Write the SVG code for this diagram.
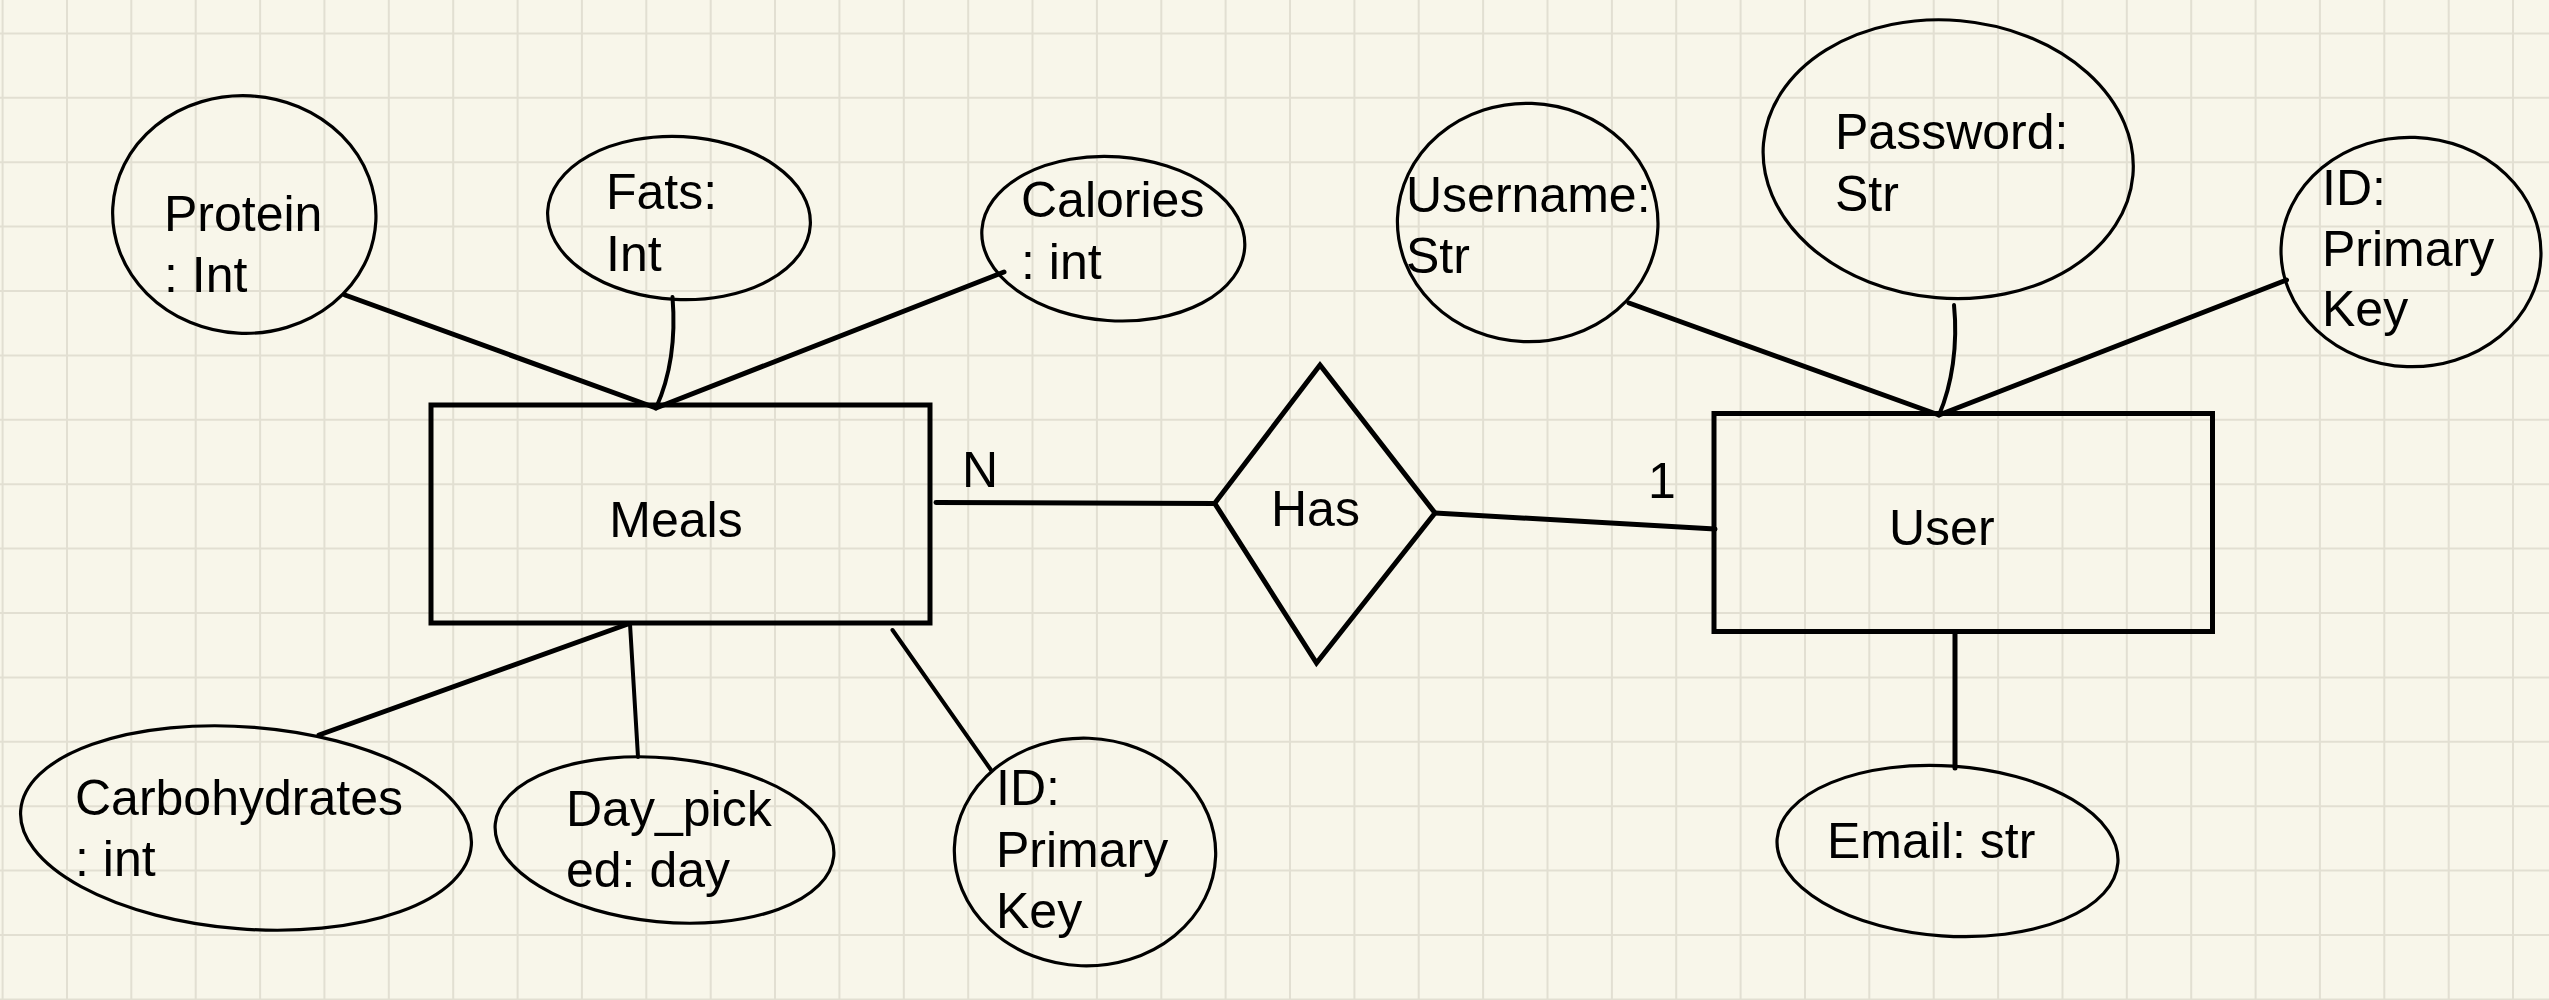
<svg xmlns="http://www.w3.org/2000/svg" width="2549" height="1000" viewBox="0 0 2549 1000">
<defs>
<style>
.bg{fill:#f8f6ea}
.grid{stroke:#e2dfd2;stroke-width:2;fill:none}
.ent{fill:none;stroke:#000;stroke-width:5;stroke-linejoin:miter}
.attr{fill:none;stroke:#000;stroke-width:3.2}
.rel{fill:none;stroke:#000;stroke-width:5;stroke-linejoin:miter}
.ln{fill:none;stroke:#000;stroke-width:5;stroke-linecap:round}
.ln4{fill:none;stroke:#000;stroke-width:4;stroke-linecap:round}
text{font-family:"Liberation Sans",Arial,Helvetica,sans-serif;font-size:50px;fill:#000}
</style>
</defs>
<rect class="bg" x="0" y="0" width="2549" height="1000"/>
<g id="grid" class="grid">
<path d="M2.6,0V1000M67,0V1000M131.3,0V1000M195.7,0V1000M260.1,0V1000M324.4,0V1000M388.8,0V1000M453.2,0V1000M517.6,0V1000M581.9,0V1000M646.3,0V1000M710.7,0V1000M775,0V1000M839.4,0V1000M903.8,0V1000M968.2,0V1000M1032.5,0V1000M1096.9,0V1000M1161.3,0V1000M1225.6,0V1000M1290,0V1000M1354.4,0V1000M1418.7,0V1000M1483.1,0V1000M1547.5,0V1000M1611.9,0V1000M1676.2,0V1000M1740.6,0V1000M1805,0V1000M1869.3,0V1000M1933.7,0V1000M1998.1,0V1000M2062.5,0V1000M2126.8,0V1000M2191.2,0V1000M2255.6,0V1000M2319.9,0V1000M2384.3,0V1000M2448.7,0V1000M2513,0V1000"/>
<path d="M0,33.4H2549M0,97.8H2549M0,162.2H2549M0,226.6H2549M0,291H2549M0,355.4H2549M0,419.8H2549M0,484.2H2549M0,548.6H2549M0,613H2549M0,677.4H2549M0,741.8H2549M0,806.2H2549M0,870.6H2549M0,935H2549M0,999.4H2549"/>
</g>
<g id="connectors">
<line class="ln" x1="345" y1="295" x2="656" y2="408"/>
<path class="ln4" d="M672.5,297 C676,340 671,375 656,408"/>
<line class="ln" x1="1004" y1="272" x2="656" y2="408"/>
<line class="ln" x1="319" y1="735" x2="628" y2="624"/>
<line class="ln4" x1="630" y1="624" x2="638" y2="757"/>
<line class="ln4" x1="892.5" y1="630" x2="991" y2="770"/>
<line class="ln" x1="936" y1="502.5" x2="1215" y2="503.5"/>
<line class="ln" x1="1435" y1="513" x2="1715" y2="529"/>
<line class="ln" x1="1629" y1="303" x2="1939" y2="415"/>
<path class="ln4" d="M1954,305 C1958,345 1952,385 1939,415"/>
<line class="ln" x1="2286.5" y1="280" x2="1939" y2="415"/>
<line class="ln" x1="1955" y1="632" x2="1955" y2="768"/>
<text x="962" y="487">N</text>
<text x="1648" y="498">1</text>
</g>
<g id="meals">
<rect class="ent" x="431" y="405" width="499" height="218"/>
<text x="676" y="537" text-anchor="middle">Meals</text>
</g>
<g id="user">
<rect class="ent" x="1714" y="413.5" width="498.5" height="218"/>
<text x="1889" y="545">User</text>
</g>
<g id="has">
<polygon class="rel" points="1320,365 1435,513 1316.5,663 1214.7,503.3"/>
<text x="1271" y="526">Has</text>
</g>
<g id="protein">
<ellipse class="attr" cx="244.3" cy="214.5" rx="131.7" ry="118.8" transform="rotate(3 244.3 214.5)"/>
<text x="164" y="231">Protein</text>
<text x="164" y="292">: Int</text>
</g>
<g id="fats">
<ellipse class="attr" cx="679" cy="218" rx="131.5" ry="81.5" transform="rotate(3 679 218)"/>
<text x="606" y="209">Fats:</text>
<text x="606" y="271">Int</text>
</g>
<g id="calories">
<ellipse class="attr" cx="1113.3" cy="238.7" rx="131.7" ry="82" transform="rotate(4 1113.3 238.7)"/>
<text x="1021" y="217">Calories</text>
<text x="1021" y="279">: int</text>
</g>
<g id="carbohydrates">
<ellipse class="attr" cx="246" cy="828" rx="226" ry="101" transform="rotate(4.5 246 828)"/>
<text x="75" y="815">Carbohydrates</text>
<text x="75" y="876">: int</text>
</g>
<g id="day_picked">
<ellipse class="attr" cx="664.5" cy="840" rx="170" ry="82" transform="rotate(5.5 664.5 840)"/>
<text x="566" y="826">Day_pick</text>
<text x="566" y="887">ed: day</text>
</g>
<g id="meals_id">
<ellipse class="attr" cx="1085" cy="852" rx="130.7" ry="113.8" transform="rotate(2 1085 852)"/>
<text x="996" y="805">ID:</text>
<text x="996" y="867">Primary</text>
<text x="996" y="928">Key</text>
</g>
<g id="username">
<ellipse class="attr" cx="1527.7" cy="222.5" rx="130.3" ry="119.2" transform="rotate(2 1527.7 222.5)"/>
<text x="1406" y="212">Username:</text>
<text x="1406" y="273">Str</text>
</g>
<g id="password">
<ellipse class="attr" cx="1948.2" cy="159.2" rx="185.4" ry="139" transform="rotate(5 1948.2 159.2)"/>
<text x="1835" y="149">Password:</text>
<text x="1835" y="211">Str</text>
</g>
<g id="user_id">
<ellipse class="attr" cx="2411" cy="252" rx="130" ry="114.7" transform="rotate(2 2411 252)"/>
<text x="2322" y="205">ID:</text>
<text x="2322" y="266">Primary</text>
<text x="2322" y="326">Key</text>
</g>
<g id="email">
<ellipse class="attr" cx="1947.5" cy="851" rx="170.8" ry="85" transform="rotate(4 1947.5 851)"/>
<text x="1827" y="858">Email: str</text>
</g>
</svg>
